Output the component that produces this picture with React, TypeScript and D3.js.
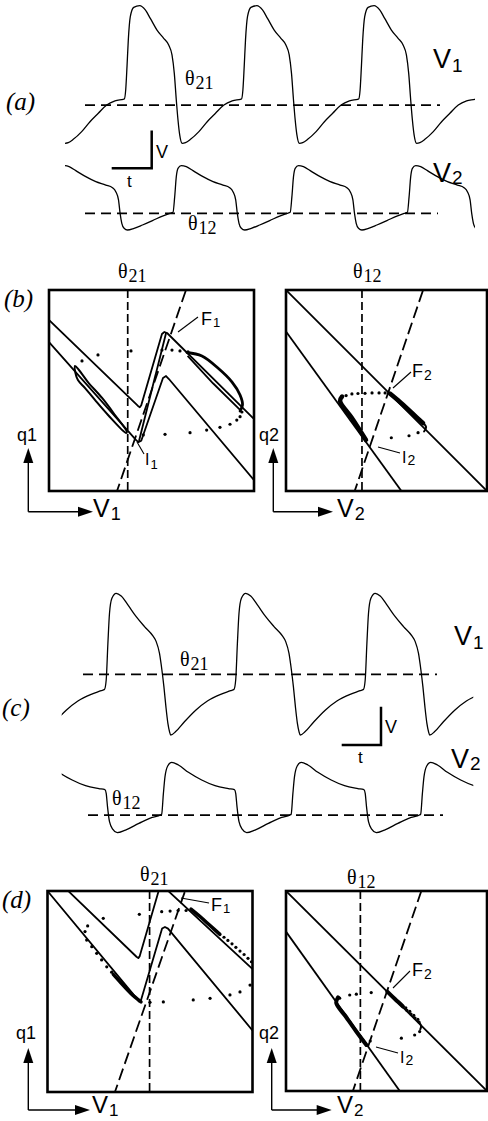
import React from "react";
import * as d3 from "d3";

type Pt = [number, number];

// ---------- membrane potential time courses ----------
// Each cycle is one period, t in time units from the cycle start, v normalised 0–100.

// (a) — V1 cycle starts at its minimum, V2 cycle starts at its upstroke
const v1CycleA: Pt[] = [
  [0, 0], [3.3, 0.5], [8.3, 2.9], [16.7, 8.5], [25, 15.7], [33.3, 21.8], [41.7, 27.8],
  [50, 30.8], [58.3, 32], [59.3, 32.2], [60.7, 38.7], [62, 55.7], [63.3, 75], [65.3, 92],
  [68.7, 98.8], [74.7, 100], [80.3, 96.9], [85.3, 90.8], [92, 82.3], [98.7, 76.3],
  [103.7, 71.4], [107, 64.2], [109.3, 50.8], [111.3, 31.5], [113, 16.9], [114.7, 6.1],
];
const v1StartsA = [0, 117.2, 234.4, 351.6];
const v2CycleA: Pt[] = [
  [0, 27.2], [1.7, 51.3], [3.3, 82.1], [5, 94.9], [8.3, 99], [13.3, 97.4], [20, 91.3],
  [30, 82.1], [40, 74.4], [50, 69.2], [56.7, 65.1], [60, 59], [62.7, 46.2], [64.3, 25.6],
  [66, 10.3], [68.3, 2.6], [71.7, 0], [78.3, 2.6], [86.7, 7.7], [96.7, 14.4],
  [106.7, 21.5], [114, 25.6],
];
const v2StartsA = [-9.2, 108, 225.2, 342.4];
const windowA: Pt = [0, 410];
const theta21A = 27.8;
const theta12A = 25.6;
const theta21SpanA: Pt = [20, 375];
const theta12SpanA: Pt = [20, 373];

// (c)
const v1CycleC: Pt[] = [
  [0, 0], [5, 2.4], [13.3, 9], [25, 17.5], [36.7, 24], [50, 28.7], [60, 31.3], [63.3, 32.2],
  [65, 38.8], [66.7, 64.7], [68.3, 85.9], [70.7, 96.5], [75, 100], [80, 98.1], [86.7, 91.8],
  [95, 83.5], [103.3, 76.5], [111.7, 69.9], [115, 65.9], [118.3, 57.6], [120.7, 45.9],
  [122.7, 34.1], [124.7, 20], [126.7, 8.2], [128.3, 2.4],
];
const v1StartsC = [-20.5, 109, 238.5, 368];
const v2CycleC: Pt[] = [
  [0, 26.5], [1.7, 55.9], [3.3, 79.6], [6, 94.8], [10, 100], [16.7, 96.2], [26.7, 85.8],
  [40, 74.9], [53.3, 66.8], [66.7, 62.6], [72.7, 61.1], [74, 55.9], [75.3, 37], [77.3, 15.6],
  [80.7, 4.7], [85, 0], [93.3, 3.8], [106.7, 13.3], [120, 21.8], [128.3, 25.1],
];
const v2StartsC = [-29.5, 100, 229.5, 359];
const windowC: Pt = [0, 411.6];
const theta21C = 42.8;
const theta12C = 25.1;
const theta21SpanC: Pt = [21.3, 375.3];
const theta12SpanC: Pt = [26.3, 381.3];

// ---------- phase planes, (V, q) in 0–100 units ----------
// (b) left: V1–q1
const upperZB1: Pt[] = [[-1, 86.1], [43.4, 42.3], [44.3, 41.7], [45, 42.7], [55.1, 78.1], [56.3, 79.1], [57.6, 78.6], [100.5, 35.3]];
const branchB1: Pt[] = [[57.1, 78.6], [43.9, 24.9]];
const lowerZB1: Pt[] = [[-1, 75.2], [42.4, 25.4], [43.6, 24.3], [45, 25], [55.6, 56.2], [57.1, 57.2], [58.5, 55.7], [100.5, 4.8]];
const nullB1: Pt[] = [[32.5, -2], [67.5, 102]];
const thetaB1 = 38.4;
const dotsB1: Pt[] = [
  [67.8, 69.2], [63.9, 69.7], [60, 70.1], [55.1, 70.1], [40, 69.7], [23.9, 67.7], [16.1, 64.7],
  [46, 27.9], [56.6, 28.2], [68.8, 29], [76.9, 30.3], [83.4, 31.7], [88.3, 33.2], [91.6, 35.3], [93.2, 37], [94.1, 39.3],
];
const loopLeftB1: Pt[] = [
  [12.7, 62.2], [12.9, 58.7], [14.1, 55.2], [17.6, 51.2], [22.4, 45.3], [28.8, 37.8], [37.6, 28.9],
  [38, 29.4], [32.2, 37.8], [25.9, 46.3], [19, 54.2], [14.6, 60.2],
];
const arcRightB1: Pt[] = [
  [67.3, 68.9], [74.6, 67.2], [82.4, 61.2], [89.3, 54.2], [93.2, 47.8], [94.4, 42.8], [93.2, 39.8],
];
const innerRightB1: Pt[] = [[93.2, 40.4], [80, 53.6], [67.6, 67.2]];

// (b) right: V2–q2
const upperB2: Pt[] = [[-1, 101], [101, -1]];
const lowerB2: Pt[] = [[-1, 80.7], [58.5, -1.5]];
const nullB2: Pt[] = [[33.5, -2], [68.9, 102]];
const thetaB2 = 37.8;
const dotsB2: Pt[] = [
  [29.9, 47.5], [32.8, 48.3], [35.8, 48.5], [39.3, 48.6], [42.8, 48.8], [46.3, 48.8], [49.3, 48.8],
  [52.4, 26.5], [61.2, 27.5], [65.7, 29],
];
const thickB2: Pt[][] = [
  [[27.9, 47], [26.9, 44.8], [32.8, 36.3], [39.8, 25.4]],
  [[51.7, 48.5], [56.7, 44.3], [62.7, 38.8], [68.2, 33.8]],
];
const hookB2: Pt[] = [[68.2, 33.8], [69.7, 31.8], [68.7, 29.6]];

// (d) left: V1–q1
const upperZD1: Pt[] = [[8.5, 101.6], [43.4, 67.3], [44.3, 66.6], [45, 67.6], [55.2, 103.5], [99.8, 61.4], [101, 60.3]];
const lowerZD1: Pt[] = [[-1, 101.2], [43.7, 46.3], [44.6, 45], [45.6, 45.6], [55.9, 81.3], [57.3, 82.1], [58.8, 81.3], [101, 29.4]];
const nullD1: Pt[] = [[32.2, -2], [67.8, 102]];
const thetaD1 = 49.8;
const dotsD1: Pt[] = [
  [19.6, 82.6], [27.2, 86.4], [44.8, 88.4], [55.7, 89.7], [59.8, 90], [63.7, 90.3], [67.6, 90.3],
  [86.1, 77], [88, 75.4], [90, 73.7], [91.9, 72], [93.9, 70.1], [95.9, 68.4], [97.8, 66.5], [99.5, 64.8],
  [50, 44.6], [56.5, 44.8], [71.1, 45.8], [79.3, 46.6], [89, 48.3], [93.9, 49.8], [98.8, 53.2],
  [18.3, 79.8], [19.1, 75.6], [21.6, 72.3], [24, 69], [26.4, 65.7], [28.9, 62.3], [31.3, 59.6],
];
const thickD1: Pt[][] = [
  [[70, 91], [74.4, 87.3], [79.3, 82.8], [84.1, 78.4]],
  [[32.1, 58.5], [35.9, 54.2], [40.7, 49], [45.6, 44.8]],
];

// (d) right: V2–q2
const upperD2: Pt[] = [[-1, 101], [101, -1]];
const lowerD2: Pt[] = [[-1, 81.1], [57.6, -1.4]];
const nullD2: Pt[] = [[32.6, -2], [68, 102]];
const thetaD2 = 37;
const dotsD2: Pt[] = [
  [26.7, 46.4], [31.7, 48], [35, 48.4], [42.4, 49.2],
  [60.2, 40.3], [62.2, 38.5], [64.2, 36.5], [66.2, 34.5],
  [59.6, 41.6], [61.6, 39.8], [63.6, 37.8], [65.6, 35.8],
  [66.5, 29.7], [64, 28], [57.4, 26.4], [41.9, 25],
];
const thickD2: Pt[][] = [
  [[25.9, 46.8], [25, 44], [29.9, 37], [34.8, 30], [40, 23]],
  [[50.4, 49.7], [54.2, 46], [58.2, 42.3]],
];
const hookD2: Pt[] = [[66.2, 34.5], [67.2, 32.5], [66.8, 30.8]];

const SANS = "'Liberation Sans', Arial, Helvetica, sans-serif";
const SERIF = "'Liberation Serif', 'Times New Roman', Times, serif";

function unroll(cycle: Pt[], starts: number[]): Pt[] {
  return starts.flatMap((s) => cycle.map(([t, v]) => [s + t, v] as Pt));
}

interface TraceProps {
  id: string;
  cycle: Pt[];
  starts: number[];
  win: Pt;
  x0: number;
  x1: number;
  yLow: number;
  yHigh: number;
  theta: number;
  thetaSpan: Pt;
}

function Trace({ id, cycle, starts, win, x0, x1, yLow, yHigh, theta, thetaSpan }: TraceProps) {
  const sx = d3.scaleLinear().domain(win).range([x0, x1]);
  const sy = d3.scaleLinear().domain([0, 100]).range([yLow, yHigh]);
  const line = d3
    .line<Pt>()
    .x((d) => sx(d[0]))
    .y((d) => sy(d[1]))
    .curve(d3.curveMonotoneX);
  const pts = unroll(cycle, starts);
  return (
    <g>
      <defs>
        <clipPath id={id}>
          <rect x={x0} y={yHigh - 20} width={x1 - x0} height={yLow - yHigh + 40} />
        </clipPath>
      </defs>
      <path d={line(pts) ?? ""} fill="none" stroke="#000" strokeWidth={1.3} clipPath={`url(#${id})`} />
      <line
        x1={sx(thetaSpan[0])}
        x2={sx(thetaSpan[1])}
        y1={sy(theta)}
        y2={sy(theta)}
        stroke="#000"
        strokeWidth={1.8}
        strokeDasharray="10,6"
      />
    </g>
  );
}

interface PhaseProps {
  id: string;
  x: number;
  y: number;
  w: number;
  h: number;
  solid: Pt[][];
  nullcline: Pt[];
  theta: number;
  dots: Pt[];
  loops?: Pt[][];
  thick?: Pt[][];
  thin?: Pt[][];
  thickWidth?: number;
}

function PhasePlane({ id, x, y, w, h, solid, nullcline, theta, dots, loops = [], thick = [], thin = [], thickWidth = 3.5 }: PhaseProps) {
  const sx = d3.scaleLinear().domain([0, 100]).range([x, x + w]);
  const sy = d3.scaleLinear().domain([0, 100]).range([y + h, y]);
  const straight = d3.line<Pt>().x((d) => sx(d[0])).y((d) => sy(d[1]));
  const smooth = d3
    .line<Pt>()
    .x((d) => sx(d[0]))
    .y((d) => sy(d[1]))
    .curve(d3.curveCatmullRom.alpha(0.5));
  const closed = d3
    .line<Pt>()
    .x((d) => sx(d[0]))
    .y((d) => sy(d[1]))
    .curve(d3.curveCatmullRomClosed.alpha(0.5));
  return (
    <g>
      <defs>
        <clipPath id={id}>
          <rect x={x} y={y} width={w} height={h} />
        </clipPath>
      </defs>
      <g clipPath={`url(#${id})`}>
        {solid.map((p, i) => (
          <path key={i} d={straight(p) ?? ""} fill="none" stroke="#000" strokeWidth={1.8} strokeLinejoin="round" />
        ))}
        <path d={straight(nullcline) ?? ""} fill="none" stroke="#000" strokeWidth={1.8} strokeDasharray="12,5" />
        <line x1={sx(theta)} x2={sx(theta)} y1={y} y2={y + h} stroke="#000" strokeWidth={1.7} strokeDasharray="8,4" />
        {loops.map((p, i) => (
          <path key={i} d={closed(p) ?? ""} fill="none" stroke="#000" strokeWidth={2} />
        ))}
        {thick.map((p, i) => (
          <path key={i} d={smooth(p) ?? ""} fill="none" stroke="#000" strokeWidth={thickWidth} strokeLinecap="round" strokeLinejoin="round" />
        ))}
        {thin.map((p, i) => (
          <path key={i} d={smooth(p) ?? ""} fill="none" stroke="#000" strokeWidth={2} strokeLinecap="round" />
        ))}
        {dots.map((d, i) => (
          <circle key={i} cx={sx(d[0])} cy={sy(d[1])} r={1.6} fill="#000" />
        ))}
      </g>
      <rect x={x} y={y} width={w} height={h} fill="none" stroke="#000" strokeWidth={2.6} />
    </g>
  );
}

function Label({ x, y, main, sub, size, subSize, dy, family, italic }: {
  x: number; y: number; main: string; sub?: string; size: number; subSize?: number; dy?: number; family: string; italic?: boolean;
}) {
  return (
    <text x={x} y={y} fontFamily={family} fontSize={size} fontStyle={italic ? "italic" : "normal"} fill="#000">
      {main}
      {sub ? (
        <tspan fontSize={subSize ?? size} dy={dy ?? 0} dx={1}>
          {sub}
        </tspan>
      ) : null}
    </text>
  );
}

function Theta({ x, y, sub }: { x: number; y: number; sub: string }) {
  return <Label x={x} y={y} main="θ" sub={sub} size={20} subSize={18} dy={4} family={SERIF} />;
}

function AxisArrows({ x, y, top, right }: { x: number; y: number; top: number; right: number }) {
  return (
    <g>
      <line x1={x} y1={y} x2={x} y2={top + 12} stroke="#000" strokeWidth={1.4} />
      <line x1={x} y1={y} x2={right - 12} y2={y} stroke="#000" strokeWidth={1.4} />
      <path d={`M${x},${top} L${x - 5},${top + 15} L${x + 5},${top + 15} Z`} fill="#000" />
      <path d={`M${right},${y} L${right - 15},${y - 5} L${right - 15},${y + 5} Z`} fill="#000" />
    </g>
  );
}

function ScaleBar({ x0, x1, y, top }: { x0: number; x1: number; y: number; top: number }) {
  return <path d={`M${x0},${y} H${x1} V${top}`} fill="none" stroke="#000" strokeWidth={2.5} />;
}

function Pointer({ x1, y1, x2, y2 }: { x1: number; y1: number; x2: number; y2: number }) {
  return <line x1={x1} y1={y1} x2={x2} y2={y2} stroke="#000" strokeWidth={1.1} />;
}

export default function App() {
  return (
    <svg width={488} height={1121} style={{ position: "absolute", left: 0, top: 0, background: "#fff" }}>
      <rect x={0} y={0} width={488} height={1121} fill="#fff" />

      {/* (a) time courses */}
      <Label x={6} y={110} main="(a)" size={25} family={SERIF} italic />
      <Trace id="a1" cycle={v1CycleA} starts={v1StartsA} win={windowA} x0={65} x1={475} yLow={143.3} yHigh={5.7} theta={theta21A} thetaSpan={theta21SpanA} />
      <Trace id="a2" cycle={v2CycleA} starts={v2StartsA} win={windowA} x0={65} x1={475} yLow={230} yHigh={165} theta={theta12A} thetaSpan={theta12SpanA} />
      <Theta x={185} y={85} sub="21" />
      <Theta x={188} y={230} sub="12" />
      <Label x={433} y={68} main="V" sub="1" size={27} subSize={19} dy={4} family={SANS} />
      <Label x={433} y={182} main="V" sub="2" size={27} subSize={19} dy={2} family={SANS} />
      <ScaleBar x0={111.7} x1={151.7} y={168.3} top={130.5} />
      <Label x={156} y={158} main="V" size={18} family={SANS} />
      <Label x={127} y={187} main="t" size={17} family={SANS} />

      {/* (b) phase planes */}
      <Label x={4} y={307} main="(b)" size={25} family={SERIF} italic />
      <Theta x={118} y={278} sub="21" />
      <Theta x={353} y={278} sub="12" />
      <PhasePlane id="b1" x={49} y={290} w={205} h={201} solid={[upperZB1, branchB1, lowerZB1, innerRightB1]} nullcline={nullB1} theta={thetaB1} dots={dotsB1} loops={[loopLeftB1]} thick={[arcRightB1]} thickWidth={2.8} />
      <PhasePlane id="b2" x={286} y={290} w={201} h={201} solid={[upperB2, lowerB2]} nullcline={nullB2} theta={thetaB2} dots={dotsB2} thick={thickB2} thin={[hookB2]} thickWidth={4.5} />
      <Pointer x1={178} y1={332} x2={198} y2={317} />
      <Label x={201} y={325} main="F" sub="1" size={18} subSize={13} dy={2} family={SANS} />
      <Pointer x1={137} y1={442} x2={144} y2={454} />
      <Label x={145} y={465} main="I" sub="1" size={16} subSize={13} dy={4} family={SANS} />
      <Pointer x1={393} y1={388} x2={411} y2={372} />
      <Label x={412} y={377} main="F" sub="2" size={18} subSize={14} dy={3} family={SANS} />
      <Pointer x1={378} y1={447} x2={400} y2={453} />
      <Label x={402} y={463} main="I" sub="2" size={16} subSize={14} dy={2} family={SANS} />
      <Label x={17} y={441} main="q1" size={18} family={SANS} />
      <Label x={259} y={441} main="q2" size={18} family={SANS} />
      <AxisArrows x={28.3} y={511.7} top={448} right={93} />
      <AxisArrows x={273.3} y={511.7} top={448} right={333} />
      <Label x={93} y={517} main="V" sub="1" size={25} subSize={18} dy={3} family={SANS} />
      <Label x={337} y={517} main="V" sub="2" size={25} subSize={18} dy={3} family={SANS} />

      {/* (c) time courses */}
      <Label x={2} y={716} main="(c)" size={25} family={SERIF} italic />
      <Trace id="c1" cycle={v1CycleC} starts={v1StartsC} win={windowC} x0={61.7} x1={473.3} yLow={735} yHigh={593.3} theta={theta21C} thetaSpan={theta21SpanC} />
      <Trace id="c2" cycle={v2CycleC} starts={v2StartsC} win={windowC} x0={61.7} x1={473.3} yLow={832.7} yHigh={762.3} theta={theta12C} thetaSpan={theta12SpanC} />
      <Theta x={180} y={666} sub="21" />
      <Theta x={112} y={805} sub="12" />
      <Label x={454} y={645} main="V" sub="1" size={27} subSize={19} dy={4} family={SANS} />
      <Label x={451} y={768} main="V" sub="2" size={27} subSize={19} dy={2} family={SANS} />
      <ScaleBar x0={341.7} x1={381} y={745} top={706.7} />
      <Label x={385} y={733} main="V" size={18} family={SANS} />
      <Label x={358} y={763} main="t" size={17} family={SANS} />

      {/* (d) phase planes */}
      <Label x={2} y={908} main="(d)" size={25} family={SERIF} italic />
      <Theta x={140} y={881} sub="21" />
      <Theta x={347} y={884} sub="12" />
      <PhasePlane id="d1" x={47.5} y={891} w={205} h={201} solid={[upperZD1, lowerZD1]} nullcline={nullD1} theta={thetaD1} dots={dotsD1} thick={thickD1} thickWidth={3.5} />
      <PhasePlane id="d2" x={286} y={891} w={201} h={200} solid={[upperD2, lowerD2]} nullcline={nullD2} theta={thetaD2} dots={dotsD2} thick={thickD2} thin={[hookD2]} thickWidth={4} />
      <Pointer x1={181} y1={898} x2={209} y2={903} />
      <Label x={211} y={911} main="F" sub="1" size={18} subSize={13} dy={2} family={SANS} />
      <Pointer x1={393} y1={988} x2={410} y2={971} />
      <Label x={412} y={976} main="F" sub="2" size={18} subSize={14} dy={3} family={SANS} />
      <Pointer x1={376} y1={1047} x2={398} y2={1053} />
      <Label x={400} y={1063} main="I" sub="2" size={16} subSize={14} dy={2} family={SANS} />
      <Label x={16} y={1039} main="q1" size={18} family={SANS} />
      <Label x={259} y={1039} main="q2" size={18} family={SANS} />
      <AxisArrows x={28.3} y={1110} top={1048} right={90} />
      <AxisArrows x={271.7} y={1110} top={1048} right={331.7} />
      <Label x={92} y={1113} main="V" sub="1" size={24} subSize={17} dy={3} family={SANS} />
      <Label x={337} y={1113} main="V" sub="2" size={24} subSize={17} dy={3} family={SANS} />
    </svg>
  );
}
